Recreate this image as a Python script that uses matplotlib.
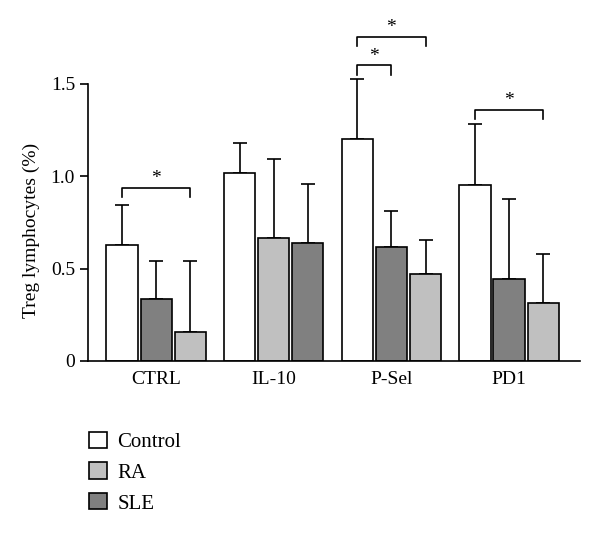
import matplotlib
matplotlib.use("Agg")
import matplotlib.pyplot as plt
import numpy as np
from matplotlib.patches import Patch

plt.rcParams['font.family'] = ['Liberation Serif', 'DejaVu Serif']

categories = ["CTRL", "IL-10", "P-Sel", "PD1"]
bar1_vals = [0.626, 1.016, 1.204, 0.953]
bar1_err = [0.22, 0.165, 0.325, 0.33]
bar2_vals = [0.336, 0.668, 0.616, 0.446]
bar2_err = [0.205, 0.428, 0.198, 0.43]
bar3_vals = [0.159, 0.640, 0.471, 0.312]
bar3_err = [0.383, 0.32, 0.182, 0.267]

WHITE, LIGHT, DARK = "#ffffff", "#c0c0c0", "#808080"
bar1_colors = [WHITE, WHITE, WHITE, WHITE]
bar2_colors = [DARK, LIGHT, DARK, DARK]
bar3_colors = [LIGHT, DARK, LIGHT, LIGHT]

legend_labels = ["Control", "RA", "SLE"]
legend_colors = [WHITE, LIGHT, DARK]

# significance brackets: (group index, bar a, bar b, height)
brackets = [(0, 0, 2, 0.935), (2, 0, 1, 1.60), (2, 0, 2, 1.753), (3, 0, 2, 1.36)]

fig = plt.figure(figsize=(6.0, 5.37), dpi=100)
ax = fig.add_axes([0.147, 0.328, 0.82, 0.636])

x = np.arange(len(categories))
w = 0.265
off = 0.29
series = [(bar1_vals, bar1_err, bar1_colors), (bar2_vals, bar2_err, bar2_colors),
          (bar3_vals, bar3_err, bar3_colors)]
for i, (vals, errs, cols) in enumerate(series):
    pos = x + (i - 1) * off
    ax.bar(pos, vals, width=w, color=cols, edgecolor="black", linewidth=1.2, zorder=2)
    ax.errorbar(pos, vals, yerr=[np.zeros(len(vals)), errs], fmt="none",
                ecolor="black", elinewidth=1.2, capsize=5, capthick=1.2, zorder=1)

leg_drop = 0.05
for g, a, b, h in brackets:
    xa = x[g] + (a - 1) * off
    xb = x[g] + (b - 1) * off
    ax.plot([xa, xa, xb, xb], [h - leg_drop, h, h, h - leg_drop], color="black", lw=1.2)
    ax.text((xa + xb) / 2, h + 0.005, "*", ha="center", va="bottom", fontsize=14)

ax.set_xlim(-0.578, 3.605)
ax.set_ylim(0, 1.85)
ax.set_yticks([0, 0.5, 1.0, 1.5])
ax.set_yticklabels(["0", "0.5", "1.0", "1.5"], fontsize=14)
ax.set_xticks(x)
ax.set_xticklabels(categories, fontsize=14)
ax.tick_params(axis="x", length=0, pad=7)
ax.tick_params(axis="y", length=6, width=1.2, direction="out")
for s in ["top", "right"]:
    ax.spines[s].set_visible(False)
ax.spines["left"].set_bounds(0, 1.5)
ax.spines["left"].set_linewidth(1.2)
ax.spines["bottom"].set_linewidth(1.2)
ax.set_ylabel("Treg lymphocytes (%)", fontsize=14)
ax.yaxis.set_label_coords(-0.098, 0.383)

handles = [Patch(facecolor=c, edgecolor="black", linewidth=1.2) for c in legend_colors]
fig.legend(handles, legend_labels, loc="upper left", bbox_to_anchor=(0.148, 0.196),
           frameon=False, fontsize=15, handlelength=0.87, handleheight=0.82,
           handletextpad=0.5, labelspacing=0.5, borderpad=0, borderaxespad=0)

fig.savefig("out.png", dpi=100)
